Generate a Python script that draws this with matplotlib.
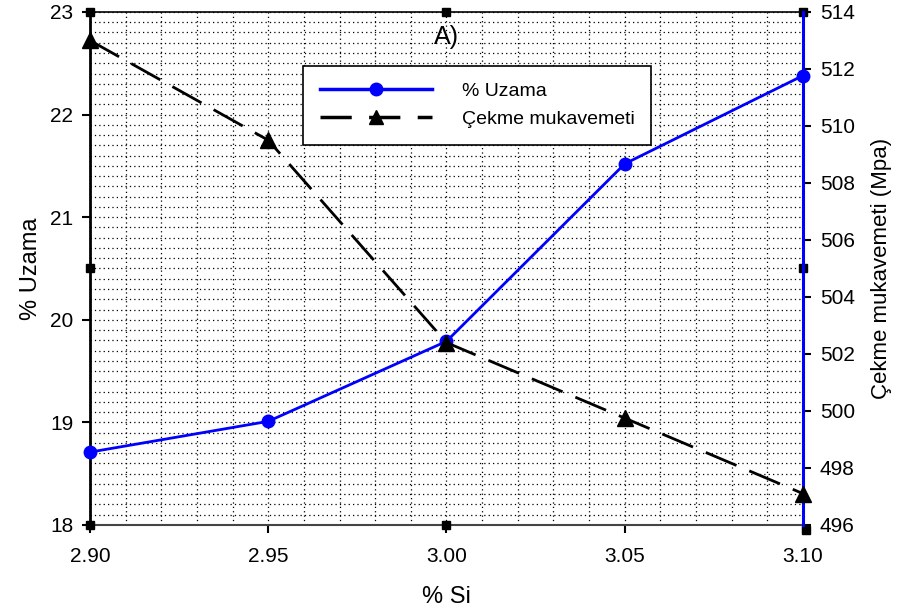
import matplotlib
matplotlib.use("Agg")
import matplotlib.pyplot as plt
from matplotlib.ticker import MultipleLocator
from matplotlib.lines import Line2D

plt.rcParams['font.family'] = ['Liberation Sans', 'DejaVu Sans']

si = [2.90, 2.95, 3.00, 3.05, 3.10]
uzama = [18.71, 19.01, 19.79, 21.52, 22.38]
cekme = [513.0, 509.5, 502.4, 499.75, 497.1]
x_ticks = [2.90, 2.95, 3.00, 3.05, 3.10]
left_ticks = [18, 19, 20, 21, 22, 23]
right_ticks = [496, 498, 500, 502, 504, 506, 508, 510, 512, 514]

fig = plt.figure(figsize=(8.98, 6.14), dpi=100)
ax = fig.add_axes([0.1002, 0.145, 0.794, 0.8355])
ax2 = ax.twinx()

ax.set_xlim(2.90, 3.10)
ax.set_ylim(18, 23)
ax2.set_ylim(496, 514)

ax.set_xticks(x_ticks)
ax.set_xticklabels([f"{v:.2f}" for v in x_ticks])
ax.set_yticks(left_ticks)
ax2.set_yticks(right_ticks)
ax.xaxis.set_minor_locator(MultipleLocator(0.01))
ax.yaxis.set_minor_locator(MultipleLocator(0.1))

ax.grid(which='both', axis='both', color='black', linestyle=(0, (1, 2.5)), linewidth=0.9)
ax.set_axisbelow(True)

ax.tick_params(axis='both', which='major', direction='out', length=6, width=1.5,
               labelsize=15, pad=6)
ax.tick_params(axis='both', which='minor', length=0)
ax2.tick_params(axis='y', which='major', direction='out', length=6, width=1.5,
                labelsize=15, pad=6)
ax.tick_params(axis='x', pad=10)

ax.spines['left'].set_linewidth(2)
ax.spines['bottom'].set_linewidth(1.5)
ax.spines['bottom'].set_color('#444444')
ax.spines['top'].set_linewidth(1.2)
ax2.spines['right'].set_color('blue')
ax2.spines['right'].set_linewidth(2.2)
ax2.spines['left'].set_visible(False)
ax2.spines['top'].set_visible(False)
ax2.spines['bottom'].set_visible(False)

l1, = ax.plot(si, uzama, color='blue', linewidth=2, marker='o', markersize=9,
              zorder=5, clip_on=False)
l2, = ax2.plot(si, cekme, color='black', linewidth=2, linestyle=(0, (12, 5)),
               marker='^', markersize=11, zorder=5, clip_on=False)

ax.set_ylabel('% Uzama', fontsize=17, labelpad=6)
ax2.set_ylabel('Çekme mukavemeti (Mpa)', fontsize=16, labelpad=12)
ax.set_xlabel('% Si', fontsize=17, labelpad=14)

ax.text(0.5, 0.975, 'A)', transform=ax.transAxes, ha='center', va='top', fontsize=18)

# axis handle squares
handles_pts = [(0, 0), (0, 1), (1, 1), (1.004, -0.01), (0, 0.5), (1, 0.5), (0.5, 1), (0.5, 0)]
for hx, hy in handles_pts:
    ax.plot([hx], [hy], marker='s', color='black', markersize=6, transform=ax.transAxes,
            clip_on=False, zorder=10)

leg_handles = [Line2D([], [], color='blue', linewidth=2.5, marker='o', markersize=9),
               Line2D([], [], color='black', linewidth=2.5, linestyle=(0, (9, 5)),
                      marker='^', markersize=10)]
leg = ax.legend(leg_handles, ['% Uzama', 'Çekme mukavemeti'],
                loc='upper left', bbox_to_anchor=(0.299, 0.895),
                fontsize=14, frameon=True, fancybox=False, edgecolor='black',
                handlelength=5.8, handletextpad=1.5, borderpad=0.85, labelspacing=0.55,
                borderaxespad=0)
leg.get_frame().set_linewidth(1.2)
leg.get_frame().set_alpha(1)
leg.set_zorder(20)

fig.savefig('out.png', dpi=100)
